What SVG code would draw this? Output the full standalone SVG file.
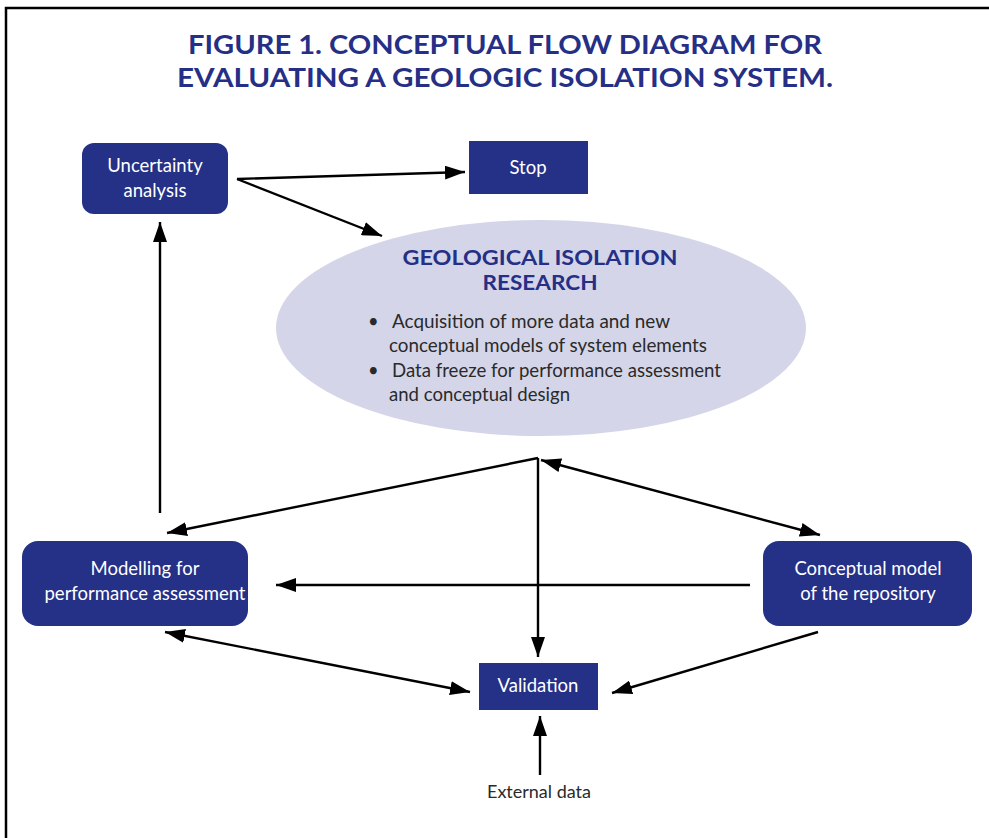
<svg xmlns="http://www.w3.org/2000/svg" width="989" height="838" viewBox="0 0 989 838">
<defs>
<style>
.title{font-family:Lato,"Liberation Sans",sans-serif;font-weight:bold;font-size:26px;fill:#262f86;text-anchor:middle}
.box{fill:#253087}
.lbl{font-family:Lato,"Liberation Sans",sans-serif;font-size:18.5px;fill:#ffffff;text-anchor:middle}
.etitle{font-family:Lato,"Liberation Sans",sans-serif;font-weight:bold;font-size:21px;fill:#262f86;text-anchor:middle}
.body{font-family:Lato,"Liberation Sans",sans-serif;font-size:18.3px;fill:#2a2a2a}
.ext{font-family:Lato,"Liberation Sans",sans-serif;font-size:18px;fill:#2a2a2a;text-anchor:middle}
.c{stroke:#000;stroke-width:2.4;fill:none}
</style>
<marker id="ah" viewBox="0 0 20 14" refX="20" refY="7" markerWidth="20" markerHeight="14" markerUnits="userSpaceOnUse" orient="auto-start-reverse">
<path d="M0,0 L20,7 L0,14 z" fill="#000"/>
</marker>
</defs>
<rect x="0" y="0" width="989" height="838" fill="#fff"/>
<path d="M6,838 V8 H989" stroke="#000" stroke-width="2.5" fill="none"/>
<text class="title" x="505" y="54" textLength="634" lengthAdjust="spacingAndGlyphs">FIGURE 1. CONCEPTUAL FLOW DIAGRAM FOR</text>
<text class="title" x="505" y="87" textLength="656" lengthAdjust="spacingAndGlyphs">EVALUATING A GEOLOGIC ISOLATION SYSTEM.</text>

<g id="research">
<ellipse cx="541" cy="328" rx="265" ry="108" fill="#d4d5e8"/>
<text class="etitle" x="540" y="265" textLength="275" lengthAdjust="spacingAndGlyphs">GEOLOGICAL ISOLATION</text>
<text class="etitle" x="540" y="290" textLength="115" lengthAdjust="spacingAndGlyphs">RESEARCH</text>
<text class="body" x="368" y="328">•</text>
<text class="body" x="392" y="328" textLength="278" lengthAdjust="spacingAndGlyphs">Acquisition of more data and new</text>
<text class="body" x="389" y="352" textLength="318" lengthAdjust="spacingAndGlyphs">conceptual models of system elements</text>
<text class="body" x="368" y="377">•</text>
<text class="body" x="392" y="377" textLength="329" lengthAdjust="spacingAndGlyphs">Data freeze for performance assessment</text>
<text class="body" x="389" y="401" textLength="181" lengthAdjust="spacingAndGlyphs">and conceptual design</text>
</g>

<g id="uncertainty">
<rect class="box" x="82" y="143" width="146" height="71" rx="12"/>
<text class="lbl" x="155" y="172">Uncertainty</text>
<text class="lbl" x="155" y="197">analysis</text>
</g>
<g id="stop">
<rect class="box" x="469" y="141" width="119" height="53"/>
<text class="lbl" x="528" y="174">Stop</text>
</g>
<g id="modelling">
<rect class="box" x="22" y="541" width="226" height="85" rx="16"/>
<text class="lbl" x="145" y="575">Modelling for</text>
<text class="lbl" x="145" y="600">performance assessment</text>
</g>
<g id="conceptual">
<rect class="box" x="763" y="541" width="209" height="85" rx="16"/>
<text class="lbl" x="868" y="575">Conceptual model</text>
<text class="lbl" x="868" y="600">of the repository</text>
</g>
<g id="validation">
<rect class="box" x="479" y="663" width="119" height="47"/>
<text class="lbl" x="538" y="692">Validation</text>
</g>
<g id="external">
<text class="ext" x="539" y="798">External data</text>
</g>

<g id="connectors">
<line class="c" x1="237" y1="179" x2="465" y2="172" marker-end="url(#ah)"/>
<line class="c" x1="237" y1="179" x2="382" y2="236" marker-end="url(#ah)"/>
<line class="c" x1="160" y1="513" x2="160" y2="222" marker-end="url(#ah)"/>
<line class="c" x1="538" y1="458" x2="167" y2="533" marker-end="url(#ah)"/>
<line class="c" x1="538" y1="458" x2="538" y2="657" marker-end="url(#ah)"/>
<line class="c" x1="541" y1="460" x2="820" y2="535" marker-start="url(#ah)" marker-end="url(#ah)"/>
<line class="c" x1="750" y1="585" x2="276" y2="585" marker-end="url(#ah)"/>
<line class="c" x1="165" y1="632" x2="470" y2="692" marker-start="url(#ah)" marker-end="url(#ah)"/>
<line class="c" x1="818" y1="632" x2="612" y2="693" marker-end="url(#ah)"/>
<line class="c" x1="540" y1="775" x2="540" y2="716" marker-end="url(#ah)"/>
</g>
</svg>
